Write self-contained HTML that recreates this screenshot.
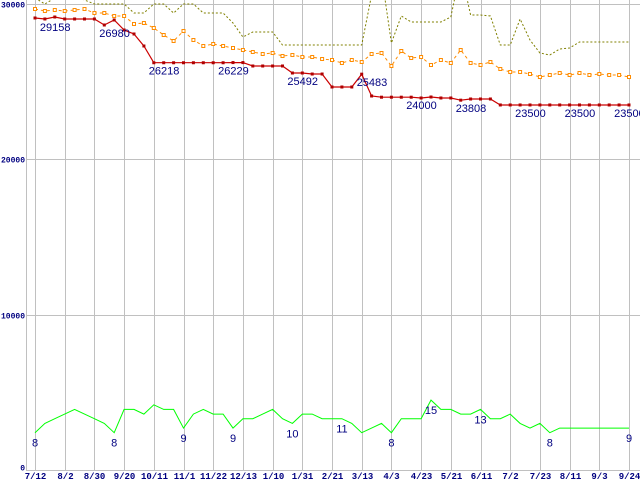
<!DOCTYPE html>
<html><head><meta charset="utf-8"><style>
html,body{margin:0;padding:0;background:#fff;}
svg{display:block;}
</style></head><body>
<svg id="chart" width="640" height="480" xmlns="http://www.w3.org/2000/svg">
</svg>
<script>
const xLabels = ["7/12","8/2","8/30","9/20","10/11","11/1","11/22","12/13","1/10","1/31","2/21","3/13","4/3","4/23","5/21","6/11","7/2","7/23","8/11","9/3","9/24"];
const yTicks = [0,10000,20000,30000];
const redVals = [29099,29035,29163,29035,29035,29035,29035,28648,28970,28326,28069,27296,26218,26218,26218,26218,26218,26218,26218,26218,26229,26229,26009,26009,26009,26009,25558,25558,25492,25492,24657,24657,24657,25483,24078,24000,24000,24000,24000,23949,24013,23949,23949,23808,23884,23884,23884,23500,23500,23500,23500,23500,23500,23500,23500,23500,23500,23500,23500,23500,23500];
const orangeVals = [29678,29549,29614,29549,29614,29678,29421,29421,29227,29227,28712,28777,28455,28004,27618,28262,27682,27296,27425,27296,27167,27039,26910,26781,26845,26652,26716,26588,26588,26459,26395,26202,26395,26266,26781,26845,26008,26974,26523,26588,26073,26395,26202,27039,26202,26073,26266,25815,25622,25622,25493,25300,25429,25558,25429,25558,25429,25493,25429,25429,25300];
const oliveVals = [30386,30000,30386,30579,30579,30258,30000,30000,30000,30000,29421,29421,30000,30000,29421,30000,30000,29421,29421,29421,28777,27876,28197,28197,28197,27360,27360,27360,27360,27360,27360,27360,27360,27360,30579,31867,27489,29227,28841,28841,28841,28841,29163,32189,29292,29292,29227,27360,27360,29034,27682,26845,26717,27103,27167,27553,27553,27553,27553,27553,27553];
const greenVals = [8,10,11,12,13,12,11,10,8,13,13,12,14,13,13,9,12,13,12,12,9,11,11,12,13,11,10,12,12,11,11,11,10,8,9,10,8,11,11,11,15,13,13,12,12,13,11,11,12,10,9,10,8,9,9,9,9,9,9,9,9];
const redLabelIdx = [1,7,12,19,26,33,38,43,49,54,59];
const redLabelText = ["29158","26980","26218","26229","25492","25483","24000","23808","23500","23500","23500"];
const greenLabelIdx = [0,8,15,20,26,31,36,40,45,52,60];
const GREEN_SCALE = 300;

const svg = document.getElementById('chart');
const NS = 'http://www.w3.org/2000/svg';
const X0 = 35, X1 = 629, Y0 = 470, Y1 = 4, YMAX = 30000;
const N = redVals.length;
function xs(i){ return X0 + (X1 - X0) * i / (N - 1); }
function ys(v){ return Y0 - (Y0 - Y1) * v / YMAX; }
function mk(tag, attrs){ const e = document.createElementNS(NS, tag); for (const k in attrs) e.setAttribute(k, attrs[k]); svg.appendChild(e); return e; }

const defs = mk('defs', {});
const cp = document.createElementNS(NS, 'clipPath'); cp.setAttribute('id','plot');
const cr = document.createElementNS(NS, 'rect'); cr.setAttribute('x',26); cr.setAttribute('y',0); cr.setAttribute('width',614); cr.setAttribute('height',471);
cp.appendChild(cr); defs.appendChild(cp);

xLabels.forEach((t, k) => {
  const x = Math.round(xs(k * 3)) + 0.5;
  const g = mk('line', {x1:x, y1:0, x2:x, y2:471, stroke:'#c0c0c0', 'stroke-width':1});
  
  
  const tx = mk('text', {x:x, y:479, 'text-anchor':'middle', 'font-family':'Liberation Mono, monospace', 'font-size':9, 'font-weight':'bold', fill:'#000080'});
  tx.textContent = t;
  
  
});
yTicks.forEach(v => {
  const y = Math.round(ys(v)) + 0.5;
  if (v > 0) {
    const g = mk('line', {x1:26, y1:y, x2:640, y2:y, stroke:'#c0c0c0', 'stroke-width':1});
    
    
  }
  const tx = mk('text', {x:25, y: v === 0 ? y : y + 3, 'text-anchor':'end', 'font-family':'Liberation Mono, monospace', 'font-size':8, 'font-weight':'bold', fill:'#000080'});
  tx.textContent = String(v);
  
  
});
const ax = mk('line', {x1:26.5, y1:0, x2:26.5, y2:471, stroke:'#c0c0c0', 'stroke-width':1});


const bx = mk('line', {x1:26, y1:470.5, x2:640, y2:470.5, stroke:'#c0c0c0', 'stroke-width':1});



function pts(vals, f){ return vals.map((v,i) => xs(i).toFixed(1) + ',' + f(v).toFixed(1)).join(' '); }

const ol = mk('polyline', {points: pts(oliveVals, ys), fill:'none', stroke:'#808000', 'stroke-width':1, 'stroke-dasharray':'2,2', 'clip-path':'url(#plot)'});



const or = mk('polyline', {points: pts(orangeVals, ys), fill:'none', stroke:'#ff8c00', 'stroke-width':1, 'stroke-dasharray':'3,3'});


orangeVals.forEach((v,i) => {
  const r = mk('rect', {x:xs(i)-1.5, y:ys(v)-1.5, width:3, height:3, fill:'#fff', stroke:'#ff8c00', 'stroke-width':1});
  
  
});

const rl = mk('polyline', {points: pts(redVals, ys), fill:'none', stroke:'#cc0000', 'stroke-width':1.2});


redVals.forEach((v,i) => {
  const r = mk('rect', {x:xs(i)-1.5, y:ys(v)-1.5, width:3, height:3, fill:'#b00000'});
  
  
});
redLabelIdx.forEach((idx, k) => {
  const tx = mk('text', {x:xs(idx)-5, y:ys(redVals[idx])+12, 'font-family':'Liberation Sans, sans-serif', 'font-size':11, fill:'#000080'});
  tx.textContent = redLabelText[k];
  
  
});

function gy(v){ return ys(v * GREEN_SCALE); }
const gl = mk('polyline', {points: pts(greenVals, gy), fill:'none', stroke:'#00ff00', 'stroke-width':1});


greenLabelIdx.forEach(idx => {
  const tx = mk('text', {x:xs(idx), y:gy(greenVals[idx])+14, 'text-anchor':'middle', 'font-family':'Liberation Sans, sans-serif', 'font-size':11, fill:'#000080'});
  tx.textContent = String(greenVals[idx]);
  
  
});
</script>
</body></html>
